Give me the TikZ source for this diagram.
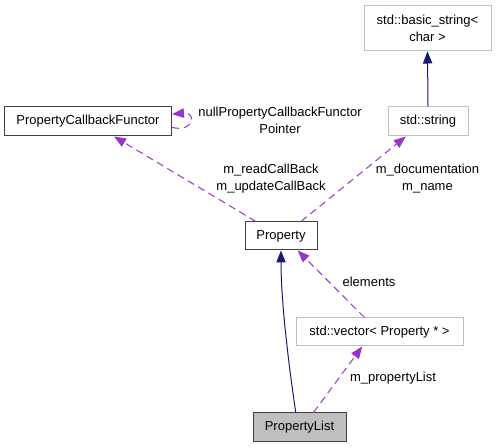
\documentclass[tikz,border=0pt]{standalone}
\usepackage{fontspec}
\setmainfont{Liberation Sans}
\usetikzlibrary{arrows.meta}
\definecolor{edgeuse}{HTML}{9A32CD}
\definecolor{edgeinh}{HTML}{191970}
\definecolor{extgray}{HTML}{BFBFBF}
\tikzset{
  box/.style={draw, line width=0.75pt, inner sep=0pt, align=center,
    font=\fontsize{9.75}{12.75}\selectfont},
  cls/.style={box, draw=black!75, fill=white},
  ext/.style={box, draw=extgray, fill=white},
  cur/.style={box, draw=black!75, fill=extgray},
  inh/.style={draw=edgeinh, line width=0.75pt, -{Triangle[length=9pt,width=7pt]}},
  use/.style={draw=edgeuse, line width=0.75pt, dash pattern=on 5.5pt off 3.5pt,
    -{Triangle[length=9pt,width=7pt]}},
  lbl/.style={align=center, inner sep=0pt, font=\fontsize{9.75}{12.75}\selectfont}
}
\begin{document}
\begin{tikzpicture}[x=0.75pt,y=-0.75pt]
                \useasboundingbox (0,0) rectangle (496,448);
                % classes
                \node[ext, minimum width=95.25pt, minimum height=33.75pt] (bstr) at (427.5,28.5) {std::basic\_string\textless\\char \textgreater};
                \node[ext, minimum width=60pt, minimum height=21.75pt] (str) at (428,121.5) {std::string};
                \node[cls, minimum width=125.25pt, minimum height=21.75pt] (pcf) at (88,121.5) {PropertyCallbackFunctor};
                \node[cls, minimum width=54pt, minimum height=21pt] (prop) at (281,236) {Property};
                \node[ext, minimum width=125.25pt, minimum height=21pt] (vec) at (379.5,332) {std::vector\textless{} Property * \textgreater};
                \node[cur, minimum width=69.75pt, minimum height=21.75pt] (plist) at (299.5,427.5) {PropertyList};
                % inheritance
                \draw[inh] (str.north) -- (bstr.south);
                \draw[inh] (plist.104) .. controls (288,360) and (281,300) .. (prop.south);
                % members
                \draw[use] (pcf.-4.5) .. controls (194,133) and (197,112) .. (pcf.5);
                \draw[use] (prop.150) -- (pcf.-30);
                \draw[use] (prop.36) -- (str.214);
                \draw[use] (vec.136) -- (prop.-41);
                \draw[use] (plist.47) -- (vec.220);
                % labels
                \node[lbl] (lnull) at (280,120) {nullPropertyCallbackFunctor\\Pointer};
                \node[lbl] (lcb) at (271,179) {m\_readCallBack\\m\_updateCallBack};
                \node[lbl] (ldoc) at (427.5,179) {m\_documentation\\m\_name};
                \node[lbl] (lel) at (369,282) {elements};
                \node[lbl] (lpl) at (393,378) {m\_propertyList};
\end{tikzpicture}
\end{document}
